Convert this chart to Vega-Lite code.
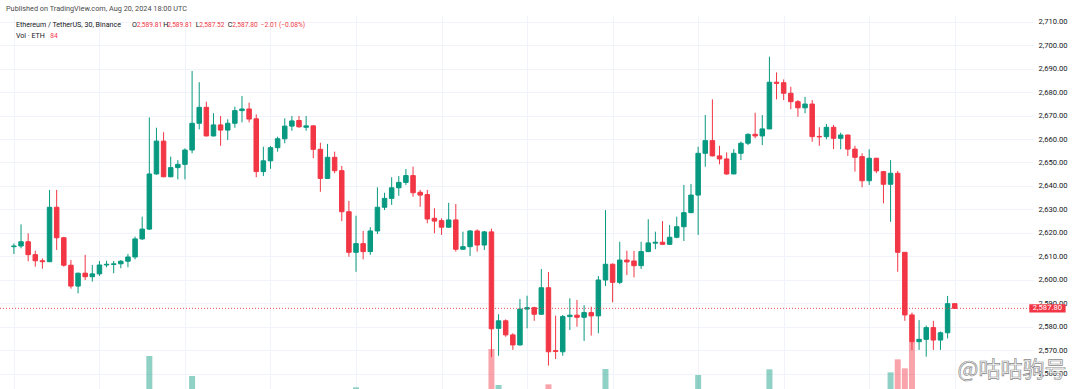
{
  "$schema": "https://vega.github.io/schema/vega-lite/v6.json",
  "width": 1033,
  "height": 374,
  "autosize": {"type": "none"},
  "padding": {"left": 0, "top": 15, "right": 47, "bottom": 0},
  "background": "white",
  "config": {"view": {"stroke": null}, "font": "Roboto", "axisY": {"labelOverlap": false, "tickCount": 16}},
  "title": {"text": "Published on TradingView.com, Aug 20, 2024 18:00 UTC", "anchor": "start", "frame": "group", "orient": "top", "offset": 3, "dx": 6, "fontSize": 7.3, "fontWeight": "normal", "font": "Roboto", "color": "#4a4a4a"},
  "data": {"values": [
    {"i":0,"o":2614.1,"h":2615.5,"l":2611.0,"c":2614.4,"v":1800},
    {"i":1,"o":2614.4,"h":2623.6,"l":2613.4,"c":2616.2,"v":2600},
    {"i":2,"o":2616.2,"h":2619.8,"l":2607.9,"c":2610.7,"v":2900},
    {"i":3,"o":2610.7,"h":2612.4,"l":2605.6,"c":2608.1,"v":2100},
    {"i":4,"o":2608.1,"h":2609.1,"l":2604.7,"c":2607.7,"v":1700},
    {"i":5,"o":2607.7,"h":2638.3,"l":2607.5,"c":2630.9,"v":5600},
    {"i":6,"o":2630.9,"h":2638.3,"l":2612.7,"c":2617.9,"v":5200},
    {"i":7,"o":2617.9,"h":2618.3,"l":2605.6,"c":2606.2,"v":3600},
    {"i":8,"o":2606.2,"h":2608.4,"l":2596.2,"c":2597.3,"v":3900},
    {"i":9,"o":2597.3,"h":2603.0,"l":2594.2,"c":2602.8,"v":2800},
    {"i":10,"o":2602.8,"h":2610.6,"l":2599.9,"c":2601.3,"v":2500},
    {"i":11,"o":2601.3,"h":2606.3,"l":2599.2,"c":2602.5,"v":1900},
    {"i":12,"o":2602.5,"h":2608.0,"l":2601.6,"c":2606.3,"v":2000},
    {"i":13,"o":2606.3,"h":2608.1,"l":2605.3,"c":2606.6,"v":1200},
    {"i":14,"o":2606.5,"h":2608.0,"l":2602.8,"c":2606.8,"v":1400},
    {"i":15,"o":2606.8,"h":2608.4,"l":2604.9,"c":2607.9,"v":1300},
    {"i":16,"o":2607.9,"h":2611.0,"l":2605.3,"c":2609.7,"v":1700},
    {"i":17,"o":2609.7,"h":2618.4,"l":2608.7,"c":2617.4,"v":2900},
    {"i":18,"o":2617.4,"h":2626.9,"l":2617.0,"c":2621.6,"v":3100},
    {"i":19,"o":2621.6,"h":2669.2,"l":2621.2,"c":2645.1,"v":11100},
    {"i":20,"o":2645.1,"h":2664.8,"l":2644.8,"c":2659.1,"v":5900},
    {"i":21,"o":2659.1,"h":2662.9,"l":2643.7,"c":2643.9,"v":4700},
    {"i":22,"o":2643.9,"h":2652.5,"l":2643.7,"c":2647.8,"v":3000},
    {"i":23,"o":2647.8,"h":2651.0,"l":2642.8,"c":2649.2,"v":2400},
    {"i":24,"o":2649.2,"h":2656.0,"l":2642.8,"c":2655.3,"v":2800},
    {"i":25,"o":2655.3,"h":2689.0,"l":2653.9,"c":2666.7,"v":8100},
    {"i":26,"o":2666.7,"h":2684.2,"l":2664.1,"c":2673.5,"v":5400},
    {"i":27,"o":2673.5,"h":2675.9,"l":2661.1,"c":2661.3,"v":3900},
    {"i":28,"o":2661.3,"h":2671.0,"l":2661.1,"c":2666.0,"v":2600},
    {"i":29,"o":2666.0,"h":2669.8,"l":2657.1,"c":2663.8,"v":3100},
    {"i":30,"o":2663.8,"h":2668.4,"l":2659.6,"c":2666.7,"v":2200},
    {"i":31,"o":2666.7,"h":2673.8,"l":2664.8,"c":2672.1,"v":2400},
    {"i":32,"o":2672.1,"h":2678.3,"l":2667.1,"c":2672.8,"v":2500},
    {"i":33,"o":2672.8,"h":2675.5,"l":2667.1,"c":2668.5,"v":2000},
    {"i":34,"o":2668.6,"h":2670.5,"l":2643.7,"c":2646.1,"v":5800},
    {"i":35,"o":2646.1,"h":2656.7,"l":2644.2,"c":2650.7,"v":3600},
    {"i":36,"o":2650.7,"h":2657.0,"l":2647.3,"c":2656.3,"v":2700},
    {"i":37,"o":2656.3,"h":2661.0,"l":2654.6,"c":2660.1,"v":2100},
    {"i":38,"o":2660.1,"h":2668.8,"l":2658.2,"c":2665.5,"v":2600},
    {"i":39,"o":2665.5,"h":2669.8,"l":2663.5,"c":2667.7,"v":1800},
    {"i":40,"o":2667.9,"h":2669.8,"l":2664.8,"c":2665.2,"v":1600},
    {"i":41,"o":2665.0,"h":2669.8,"l":2663.5,"c":2665.6,"v":1700},
    {"i":42,"o":2665.6,"h":2665.9,"l":2651.8,"c":2655.6,"v":3300},
    {"i":43,"o":2655.6,"h":2658.4,"l":2637.5,"c":2643.2,"v":5100},
    {"i":44,"o":2643.2,"h":2657.9,"l":2643.0,"c":2652.2,"v":3700},
    {"i":45,"o":2652.2,"h":2654.6,"l":2645.4,"c":2646.5,"v":2600},
    {"i":46,"o":2646.5,"h":2648.5,"l":2625.0,"c":2629.0,"v":5300},
    {"i":47,"o":2629.0,"h":2633.6,"l":2609.8,"c":2611.7,"v":5700},
    {"i":48,"o":2611.7,"h":2627.3,"l":2603.4,"c":2615.4,"v":6400},
    {"i":49,"o":2615.4,"h":2620.8,"l":2608.7,"c":2612.0,"v":3300},
    {"i":50,"o":2612.0,"h":2622.4,"l":2610.6,"c":2620.8,"v":2900},
    {"i":51,"o":2620.8,"h":2639.4,"l":2619.5,"c":2630.9,"v":4600},
    {"i":52,"o":2630.9,"h":2637.1,"l":2629.7,"c":2634.7,"v":2400},
    {"i":53,"o":2634.7,"h":2643.7,"l":2631.9,"c":2639.2,"v":2700},
    {"i":54,"o":2639.2,"h":2644.2,"l":2635.8,"c":2641.5,"v":2100},
    {"i":55,"o":2641.5,"h":2647.2,"l":2640.4,"c":2644.4,"v":2000},
    {"i":56,"o":2644.4,"h":2648.2,"l":2635.4,"c":2637.1,"v":2800},
    {"i":57,"o":2637.3,"h":2638.3,"l":2631.1,"c":2636.1,"v":1900},
    {"i":58,"o":2636.3,"h":2638.3,"l":2624.1,"c":2625.9,"v":3200},
    {"i":59,"o":2626.2,"h":2630.5,"l":2619.8,"c":2625.0,"v":2300},
    {"i":60,"o":2625.2,"h":2626.2,"l":2619.1,"c":2622.4,"v":1800},
    {"i":61,"o":2622.4,"h":2632.8,"l":2622.2,"c":2625.5,"v":2500},
    {"i":62,"o":2625.5,"h":2632.3,"l":2612.0,"c":2613.0,"v":3700},
    {"i":63,"o":2613.0,"h":2620.5,"l":2612.8,"c":2614.1,"v":1900},
    {"i":64,"o":2614.1,"h":2621.2,"l":2610.1,"c":2620.8,"v":2400},
    {"i":65,"o":2620.8,"h":2621.5,"l":2612.0,"c":2614.8,"v":2100},
    {"i":66,"o":2614.8,"h":2620.8,"l":2612.7,"c":2620.4,"v":1900},
    {"i":67,"o":2620.4,"h":2621.8,"l":2567.0,"c":2579.1,"v":12150},
    {"i":68,"o":2579.3,"h":2585.3,"l":2567.6,"c":2582.5,"v":6750},
    {"i":69,"o":2582.5,"h":2583.1,"l":2575.7,"c":2576.5,"v":4200},
    {"i":70,"o":2576.5,"h":2577.2,"l":2570.1,"c":2572.2,"v":3900},
    {"i":71,"o":2572.2,"h":2591.8,"l":2572.0,"c":2587.5,"v":5200},
    {"i":72,"o":2587.5,"h":2593.2,"l":2579.3,"c":2588.1,"v":4300},
    {"i":73,"o":2588.1,"h":2588.5,"l":2582.5,"c":2585.3,"v":2800},
    {"i":74,"o":2585.3,"h":2604.6,"l":2585.1,"c":2596.6,"v":5100},
    {"i":75,"o":2596.6,"h":2603.3,"l":2563.4,"c":2569.3,"v":6850},
    {"i":76,"o":2569.8,"h":2584.7,"l":2566.2,"c":2569.4,"v":4600},
    {"i":77,"o":2569.3,"h":2585.0,"l":2567.6,"c":2584.3,"v":4800},
    {"i":78,"o":2584.3,"h":2592.1,"l":2578.6,"c":2584.9,"v":3500},
    {"i":79,"o":2584.9,"h":2591.4,"l":2580.0,"c":2584.0,"v":2900},
    {"i":80,"o":2584.0,"h":2589.2,"l":2573.9,"c":2586.0,"v":3200},
    {"i":81,"o":2586.0,"h":2588.5,"l":2576.2,"c":2584.6,"v":2600},
    {"i":82,"o":2584.6,"h":2601.6,"l":2577.2,"c":2599.9,"v":4500},
    {"i":83,"o":2599.9,"h":2629.7,"l":2597.3,"c":2606.6,"v":9150},
    {"i":84,"o":2606.6,"h":2607.0,"l":2590.4,"c":2598.9,"v":4900},
    {"i":85,"o":2598.9,"h":2616.2,"l":2598.1,"c":2608.4,"v":3900},
    {"i":86,"o":2608.4,"h":2612.4,"l":2602.0,"c":2607.6,"v":2600},
    {"i":87,"o":2608.0,"h":2612.3,"l":2601.0,"c":2606.0,"v":2400},
    {"i":88,"o":2606.0,"h":2616.2,"l":2604.6,"c":2612.0,"v":2700},
    {"i":89,"o":2612.0,"h":2625.8,"l":2611.8,"c":2615.7,"v":3400},
    {"i":90,"o":2615.6,"h":2620.5,"l":2613.0,"c":2616.0,"v":1900},
    {"i":91,"o":2616.0,"h":2625.0,"l":2615.0,"c":2615.1,"v":2200},
    {"i":92,"o":2615.1,"h":2623.3,"l":2615.0,"c":2618.1,"v":1800},
    {"i":93,"o":2618.1,"h":2626.9,"l":2617.7,"c":2622.6,"v":2300},
    {"i":94,"o":2622.6,"h":2640.4,"l":2616.5,"c":2628.6,"v":4800},
    {"i":95,"o":2628.6,"h":2640.8,"l":2628.4,"c":2636.1,"v":3900},
    {"i":96,"o":2636.1,"h":2656.7,"l":2619.1,"c":2653.9,"v":8250},
    {"i":97,"o":2653.9,"h":2670.2,"l":2648.2,"c":2659.3,"v":5400},
    {"i":98,"o":2659.3,"h":2676.9,"l":2652.6,"c":2652.8,"v":5000},
    {"i":99,"o":2652.8,"h":2657.1,"l":2649.2,"c":2651.5,"v":2600},
    {"i":100,"o":2651.5,"h":2654.3,"l":2644.7,"c":2645.1,"v":2500},
    {"i":101,"o":2645.1,"h":2655.7,"l":2645.0,"c":2653.9,"v":2700},
    {"i":102,"o":2653.9,"h":2658.9,"l":2651.0,"c":2658.2,"v":2000},
    {"i":103,"o":2658.2,"h":2662.4,"l":2657.4,"c":2662.0,"v":1800},
    {"i":104,"o":2662.0,"h":2671.2,"l":2660.3,"c":2661.3,"v":2600},
    {"i":105,"o":2661.3,"h":2670.2,"l":2657.4,"c":2664.3,"v":2900},
    {"i":106,"o":2664.3,"h":2695.1,"l":2664.2,"c":2684.2,"v":9100},
    {"i":107,"o":2684.2,"h":2688.4,"l":2676.9,"c":2683.7,"v":4300},
    {"i":108,"o":2684.0,"h":2685.4,"l":2676.6,"c":2679.5,"v":3100},
    {"i":109,"o":2679.5,"h":2682.3,"l":2672.7,"c":2675.9,"v":2800},
    {"i":110,"o":2675.9,"h":2676.6,"l":2669.5,"c":2673.3,"v":2200},
    {"i":111,"o":2673.3,"h":2678.0,"l":2671.0,"c":2674.9,"v":1900},
    {"i":112,"o":2674.9,"h":2676.6,"l":2658.8,"c":2661.0,"v":3900},
    {"i":113,"o":2661.1,"h":2665.0,"l":2657.1,"c":2660.9,"v":2100},
    {"i":114,"o":2661.0,"h":2666.4,"l":2659.9,"c":2665.0,"v":1900},
    {"i":115,"o":2665.0,"h":2666.0,"l":2655.7,"c":2660.3,"v":2300},
    {"i":116,"o":2660.3,"h":2662.7,"l":2655.6,"c":2661.7,"v":1700},
    {"i":117,"o":2661.7,"h":2661.8,"l":2652.8,"c":2655.7,"v":2400},
    {"i":118,"o":2655.7,"h":2657.1,"l":2646.1,"c":2652.2,"v":2800},
    {"i":119,"o":2652.5,"h":2653.9,"l":2639.4,"c":2642.2,"v":3600},
    {"i":120,"o":2642.2,"h":2655.6,"l":2640.4,"c":2651.8,"v":3400},
    {"i":121,"o":2651.8,"h":2652.0,"l":2645.4,"c":2646.4,"v":2500},
    {"i":122,"o":2646.1,"h":2646.4,"l":2632.6,"c":2640.7,"v":3300},
    {"i":123,"o":2640.7,"h":2651.0,"l":2624.7,"c":2645.4,"v":8650},
    {"i":124,"o":2645.4,"h":2646.4,"l":2603.4,"c":2611.7,"v":10600},
    {"i":125,"o":2611.7,"h":2611.8,"l":2582.5,"c":2585.0,"v":9250},
    {"i":126,"o":2585.0,"h":2586.0,"l":2570.0,"c":2573.6,"v":13250},
    {"i":127,"o":2573.6,"h":2582.8,"l":2570.1,"c":2574.6,"v":5400},
    {"i":128,"o":2574.6,"h":2580.5,"l":2567.2,"c":2579.6,"v":4700},
    {"i":129,"o":2579.6,"h":2582.5,"l":2570.1,"c":2574.3,"v":3800},
    {"i":130,"o":2574.3,"h":2577.9,"l":2570.1,"c":2577.4,"v":3100},
    {"i":131,"o":2577.4,"h":2593.1,"l":2575.0,"c":2589.8,"v":5500},
    {"i":132,"o":2589.81,"h":2589.81,"l":2587.52,"c":2587.80,"v":84}
  ]},
  "resolve": {"scale": {"y": "independent"}},
  "layer": [
    {
      "mark": {"type": "bar", "size": 6, "clip": true, "opacity": 0.45},
      "encoding": {
        "x": {"field": "i", "type": "quantitative", "scale": {"domain": [-1.25, 142.28], "nice": false, "zero": false}, "axis": {"values": [0,12,24,36,48,60,72,84,96,108,120,132], "labels": false, "ticks": false, "domain": false, "grid": true, "gridColor": "#f0f3fa", "gridWidth": 1, "title": null}},
        "y": {"field": "v", "type": "quantitative", "scale": {"domain": [6150, 62250], "nice": false, "zero": false}, "axis": null},
        "y2": {"datum": 0},
        "color": {"condition": {"test": "datum.c >= datum.o", "value": "#089981"}, "value": "#f23645"}
      }
    },
    {
      "layer": [
        {
          "mark": {"type": "rule", "strokeWidth": 1},
          "encoding": {
            "x": {"field": "i", "type": "quantitative", "scale": {"domain": [-1.25, 142.28], "nice": false, "zero": false}},
            "y": {"field": "l", "type": "quantitative", "scale": {"domain": [2553.43, 2712.86], "nice": false, "zero": false}, "axis": {"orient": "right", "values": [2560,2570,2580,2590,2600,2610,2620,2630,2640,2650,2660,2670,2680,2690,2700,2710], "tickCount": 16, "format": ",.2f", "grid": true, "gridColor": "#f0f3fa", "domain": false, "ticks": false, "labelPadding": 5, "labelFontSize": 7.6, "labelFont": "Roboto", "labelColor": "#131722", "labelOverlap": false, "labelBound": false, "labelFlush": false, "title": null}},
            "y2": {"field": "h"},
            "color": {"condition": {"test": "datum.c >= datum.o", "value": "#089981"}, "value": "#f23645"}
          }
        },
        {
          "mark": {"type": "bar", "size": 4.5, "strokeWidth": 1},
          "encoding": {
            "x": {"field": "i", "type": "quantitative"},
            "y": {"field": "o", "type": "quantitative", "axis": {"orient": "right", "values": [2560,2570,2580,2590,2600,2610,2620,2630,2640,2650,2660,2670,2680,2690,2700,2710], "tickCount": 16, "format": ",.2f", "grid": true, "gridColor": "#f0f3fa", "domain": false, "ticks": false, "labelPadding": 5, "labelFontSize": 7.6, "labelFont": "Roboto", "labelColor": "#131722", "labelOverlap": false, "labelBound": false, "labelFlush": false, "title": null}},
            "y2": {"field": "c"},
            "color": {"condition": {"test": "datum.c >= datum.o", "value": "#089981"}, "value": "#f23645"},
            "stroke": {"condition": {"test": "datum.c >= datum.o", "value": "#089981"}, "value": "#f23645"}
          }
        },
        {
          "data": {"values": [{}]},
          "mark": {"type": "rule", "color": "#f23645", "strokeWidth": 1, "strokeDash": [1, 2], "opacity": 0.9},
          "encoding": {"y": {"datum": 2587.8, "type": "quantitative", "axis": {"orient": "right", "values": [2560,2570,2580,2590,2600,2610,2620,2630,2640,2650,2660,2670,2680,2690,2700,2710], "tickCount": 16, "format": ",.2f", "grid": true, "gridColor": "#f0f3fa", "domain": false, "ticks": false, "labelPadding": 5, "labelFontSize": 7.6, "labelFont": "Roboto", "labelColor": "#131722", "labelOverlap": false, "labelBound": false, "labelFlush": false, "title": null}}}
        },
        {
          "data": {"values": [{}]},
          "mark": {"type": "rect", "color": "#f23645", "clip": false},
          "encoding": {"x": {"datum": 142.46}, "x2": {"datum": 147.56}, "y": {"datum": 2586.05, "type": "quantitative", "axis": {"orient": "right", "values": [2560,2570,2580,2590,2600,2610,2620,2630,2640,2650,2660,2670,2680,2690,2700,2710], "tickCount": 16, "format": ",.2f", "grid": true, "gridColor": "#f0f3fa", "domain": false, "ticks": false, "labelPadding": 5, "labelFontSize": 7.6, "labelFont": "Roboto", "labelColor": "#131722", "labelOverlap": false, "labelBound": false, "labelFlush": false, "title": null}}, "y2": {"datum": 2589.55}}
        },
        {
          "data": {"values": [{}]},
          "mark": {"type": "text", "text": "2,587.80", "color": "white", "fontSize": 7.6, "font": "Roboto", "align": "center", "baseline": "middle"},
          "encoding": {"x": {"datum": 145.0}, "y": {"datum": 2587.8, "type": "quantitative", "axis": {"orient": "right", "values": [2560,2570,2580,2590,2600,2610,2620,2630,2640,2650,2660,2670,2680,2690,2700,2710], "tickCount": 16, "format": ",.2f", "grid": true, "gridColor": "#f0f3fa", "domain": false, "ticks": false, "labelPadding": 5, "labelFontSize": 7.6, "labelFont": "Roboto", "labelColor": "#131722", "labelOverlap": false, "labelBound": false, "labelFlush": false, "title": null}}}
        },
        {
          "data": {"values": [{"t": "Ethereum / TetherUS, 30, Binance"}]},
          "mark": {"type": "text", "color": "#131722", "fontSize": 7.1, "font": "Roboto", "align": "left", "baseline": "middle"},
          "encoding": {"text": {"field": "t"}, "x": {"datum": 0.28}, "y": {"datum": 2708.5, "type": "quantitative", "axis": {"orient": "right", "values": [2560,2570,2580,2590,2600,2610,2620,2630,2640,2650,2660,2670,2680,2690,2700,2710], "tickCount": 16, "format": ",.2f", "grid": true, "gridColor": "#f0f3fa", "domain": false, "ticks": false, "labelPadding": 5, "labelFontSize": 7.6, "labelFont": "Roboto", "labelColor": "#131722", "labelOverlap": false, "labelBound": false, "labelFlush": false, "title": null}}}
        },
        {
          "data": {"values": [{}]},
          "mark": {"type": "text", "text": "O", "color": "#131722", "fontSize": 7.1, "font": "Roboto", "align": "left", "baseline": "middle"},
          "encoding": {"x": {"datum": 16.58}, "y": {"datum": 2708.5, "type": "quantitative", "axis": {"orient": "right", "values": [2560,2570,2580,2590,2600,2610,2620,2630,2640,2650,2660,2670,2680,2690,2700,2710], "tickCount": 16, "format": ",.2f", "grid": true, "gridColor": "#f0f3fa", "domain": false, "ticks": false, "labelPadding": 5, "labelFontSize": 7.6, "labelFont": "Roboto", "labelColor": "#131722", "labelOverlap": false, "labelBound": false, "labelFlush": false, "title": null}}}
        },
        {
          "data": {"values": [{}]},
          "mark": {"type": "text", "text": "2,589.81", "color": "#f23645", "fontSize": 6.6, "font": "Roboto", "align": "left", "baseline": "middle"},
          "encoding": {"x": {"datum": 17.25}, "y": {"datum": 2708.5, "type": "quantitative", "axis": {"orient": "right", "values": [2560,2570,2580,2590,2600,2610,2620,2630,2640,2650,2660,2670,2680,2690,2700,2710], "tickCount": 16, "format": ",.2f", "grid": true, "gridColor": "#f0f3fa", "domain": false, "ticks": false, "labelPadding": 5, "labelFontSize": 7.6, "labelFont": "Roboto", "labelColor": "#131722", "labelOverlap": false, "labelBound": false, "labelFlush": false, "title": null}}}
        },
        {
          "data": {"values": [{}]},
          "mark": {"type": "text", "text": "H", "color": "#131722", "fontSize": 7.1, "font": "Roboto", "align": "left", "baseline": "middle"},
          "encoding": {"x": {"datum": 20.94}, "y": {"datum": 2708.5, "type": "quantitative", "axis": {"orient": "right", "values": [2560,2570,2580,2590,2600,2610,2620,2630,2640,2650,2660,2670,2680,2690,2700,2710], "tickCount": 16, "format": ",.2f", "grid": true, "gridColor": "#f0f3fa", "domain": false, "ticks": false, "labelPadding": 5, "labelFontSize": 7.6, "labelFont": "Roboto", "labelColor": "#131722", "labelOverlap": false, "labelBound": false, "labelFlush": false, "title": null}}}
        },
        {
          "data": {"values": [{}]},
          "mark": {"type": "text", "text": "2,589.81", "color": "#f23645", "fontSize": 6.6, "font": "Roboto", "align": "left", "baseline": "middle"},
          "encoding": {"x": {"datum": 21.5}, "y": {"datum": 2708.5, "type": "quantitative", "axis": {"orient": "right", "values": [2560,2570,2580,2590,2600,2610,2620,2630,2640,2650,2660,2670,2680,2690,2700,2710], "tickCount": 16, "format": ",.2f", "grid": true, "gridColor": "#f0f3fa", "domain": false, "ticks": false, "labelPadding": 5, "labelFontSize": 7.6, "labelFont": "Roboto", "labelColor": "#131722", "labelOverlap": false, "labelBound": false, "labelFlush": false, "title": null}}}
        },
        {
          "data": {"values": [{}]},
          "mark": {"type": "text", "text": "L", "color": "#131722", "fontSize": 7.1, "font": "Roboto", "align": "left", "baseline": "middle"},
          "encoding": {"x": {"datum": 25.53}, "y": {"datum": 2708.5, "type": "quantitative", "axis": {"orient": "right", "values": [2560,2570,2580,2590,2600,2610,2620,2630,2640,2650,2660,2670,2680,2690,2700,2710], "tickCount": 16, "format": ",.2f", "grid": true, "gridColor": "#f0f3fa", "domain": false, "ticks": false, "labelPadding": 5, "labelFontSize": 7.6, "labelFont": "Roboto", "labelColor": "#131722", "labelOverlap": false, "labelBound": false, "labelFlush": false, "title": null}}}
        },
        {
          "data": {"values": [{}]},
          "mark": {"type": "text", "text": "2,587.52", "color": "#f23645", "fontSize": 6.6, "font": "Roboto", "align": "left", "baseline": "middle"},
          "encoding": {"x": {"datum": 26.0}, "y": {"datum": 2708.5, "type": "quantitative", "axis": {"orient": "right", "values": [2560,2570,2580,2590,2600,2610,2620,2630,2640,2650,2660,2670,2680,2690,2700,2710], "tickCount": 16, "format": ",.2f", "grid": true, "gridColor": "#f0f3fa", "domain": false, "ticks": false, "labelPadding": 5, "labelFontSize": 7.6, "labelFont": "Roboto", "labelColor": "#131722", "labelOverlap": false, "labelBound": false, "labelFlush": false, "title": null}}}
        },
        {
          "data": {"values": [{}]},
          "mark": {"type": "text", "text": "C", "color": "#131722", "fontSize": 7.1, "font": "Roboto", "align": "left", "baseline": "middle"},
          "encoding": {"x": {"datum": 30.01}, "y": {"datum": 2708.5, "type": "quantitative", "axis": {"orient": "right", "values": [2560,2570,2580,2590,2600,2610,2620,2630,2640,2650,2660,2670,2680,2690,2700,2710], "tickCount": 16, "format": ",.2f", "grid": true, "gridColor": "#f0f3fa", "domain": false, "ticks": false, "labelPadding": 5, "labelFontSize": 7.6, "labelFont": "Roboto", "labelColor": "#131722", "labelOverlap": false, "labelBound": false, "labelFlush": false, "title": null}}}
        },
        {
          "data": {"values": [{}]},
          "mark": {"type": "text", "text": "2,587.80", "color": "#f23645", "fontSize": 6.6, "font": "Roboto", "align": "left", "baseline": "middle"},
          "encoding": {"x": {"datum": 30.65}, "y": {"datum": 2708.5, "type": "quantitative", "axis": {"orient": "right", "values": [2560,2570,2580,2590,2600,2610,2620,2630,2640,2650,2660,2670,2680,2690,2700,2710], "tickCount": 16, "format": ",.2f", "grid": true, "gridColor": "#f0f3fa", "domain": false, "ticks": false, "labelPadding": 5, "labelFontSize": 7.6, "labelFont": "Roboto", "labelColor": "#131722", "labelOverlap": false, "labelBound": false, "labelFlush": false, "title": null}}}
        },
        {
          "data": {"values": [{}]},
          "mark": {"type": "text", "text": "−2.01 (−0.08%)", "color": "#f23645", "fontSize": 6.6, "font": "Roboto", "align": "left", "baseline": "middle"},
          "encoding": {"x": {"datum": 34.64}, "y": {"datum": 2708.5, "type": "quantitative", "axis": {"orient": "right", "values": [2560,2570,2580,2590,2600,2610,2620,2630,2640,2650,2660,2670,2680,2690,2700,2710], "tickCount": 16, "format": ",.2f", "grid": true, "gridColor": "#f0f3fa", "domain": false, "ticks": false, "labelPadding": 5, "labelFontSize": 7.6, "labelFont": "Roboto", "labelColor": "#131722", "labelOverlap": false, "labelBound": false, "labelFlush": false, "title": null}}}
        },
        {
          "data": {"values": [{}]},
          "mark": {"type": "text", "text": "Vol · ETH", "color": "#131722", "fontSize": 7.1, "font": "Roboto", "align": "left", "baseline": "middle"},
          "encoding": {"x": {"datum": 0.28}, "y": {"datum": 2703.9, "type": "quantitative", "axis": {"orient": "right", "values": [2560,2570,2580,2590,2600,2610,2620,2630,2640,2650,2660,2670,2680,2690,2700,2710], "tickCount": 16, "format": ",.2f", "grid": true, "gridColor": "#f0f3fa", "domain": false, "ticks": false, "labelPadding": 5, "labelFontSize": 7.6, "labelFont": "Roboto", "labelColor": "#131722", "labelOverlap": false, "labelBound": false, "labelFlush": false, "title": null}}}
        },
        {
          "data": {"values": [{}]},
          "mark": {"type": "text", "text": "84", "color": "#f23645", "fontSize": 6.6, "font": "Roboto", "align": "left", "baseline": "middle"},
          "encoding": {"x": {"datum": 5.1}, "y": {"datum": 2703.9, "type": "quantitative", "axis": {"orient": "right", "values": [2560,2570,2580,2590,2600,2610,2620,2630,2640,2650,2660,2670,2680,2690,2700,2710], "tickCount": 16, "format": ",.2f", "grid": true, "gridColor": "#f0f3fa", "domain": false, "ticks": false, "labelPadding": 5, "labelFontSize": 7.6, "labelFont": "Roboto", "labelColor": "#131722", "labelOverlap": false, "labelBound": false, "labelFlush": false, "title": null}}}
        },
        {
          "data": {"values": [{}]},
          "mark": {"type": "text", "text": "@咕咕驹号", "color": "white", "stroke": "#8a8a8a", "strokeWidth": 0.7, "fontSize": 22, "font": "Noto Sans CJK SC", "align": "left", "baseline": "middle", "clip": false},
          "encoding": {"x": {"datum": 132.4}, "y": {"datum": 2561.5, "type": "quantitative", "axis": {"orient": "right", "values": [2560,2570,2580,2590,2600,2610,2620,2630,2640,2650,2660,2670,2680,2690,2700,2710], "tickCount": 16, "format": ",.2f", "grid": true, "gridColor": "#f0f3fa", "domain": false, "ticks": false, "labelPadding": 5, "labelFontSize": 7.6, "labelFont": "Roboto", "labelColor": "#131722", "labelOverlap": false, "labelBound": false, "labelFlush": false, "title": null}}}
        }
      ]
    }
  ]
}
